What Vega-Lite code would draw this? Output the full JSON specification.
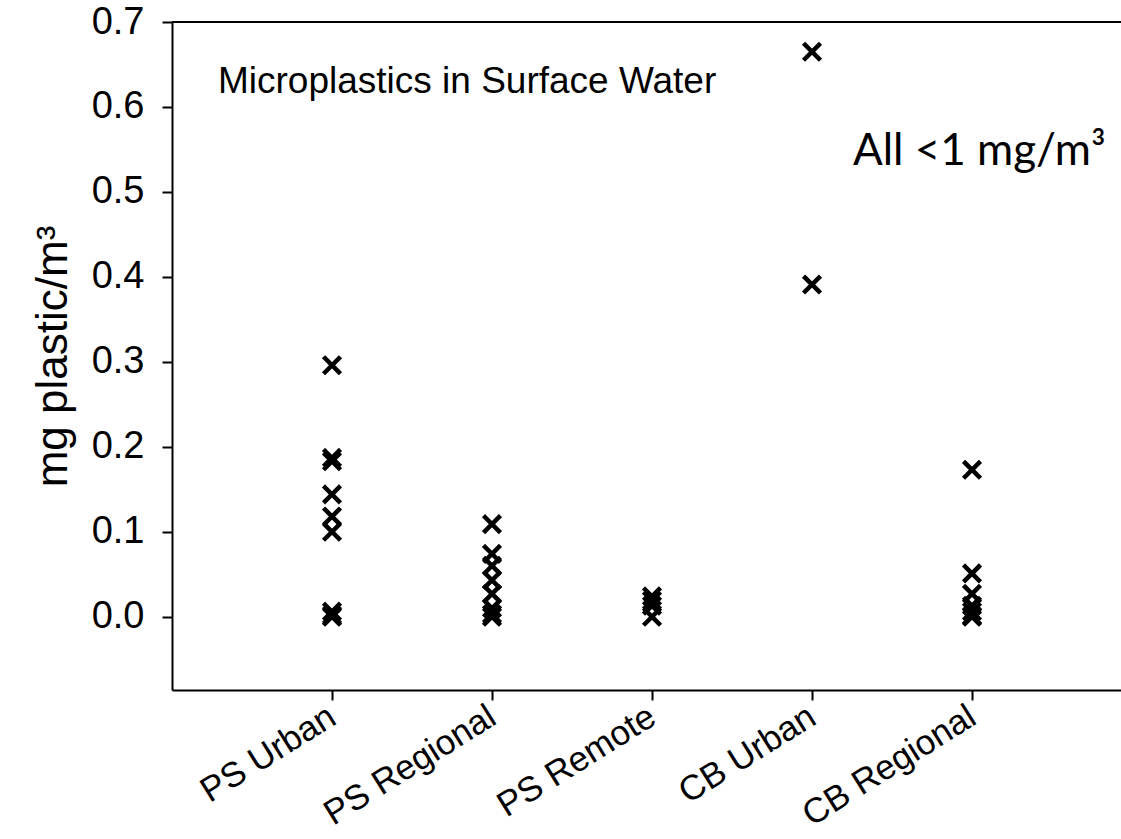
{
  "$schema": "https://vega.github.io/schema/vega-lite/v6.json",
  "width": 949,
  "height": 668,
  "autosize": {"type": "none"},
  "padding": {"left": 172, "top": 22, "right": 0, "bottom": 149},
  "background": "white",
  "config": {
    "view": {"stroke": null},
    "font": "Liberation Sans",
    "axis": {"domainColor": "black", "domainWidth": 2, "tickColor": "black", "tickWidth": 2, "grid": false, "labelColor": "black", "titleColor": "black", "labelFont": "Liberation Sans", "titleFont": "Liberation Sans"}
  },
  "datasets": {
    "pts": [
      {"site": "PS Urban", "value": 0.296},
      {"site": "PS Urban", "value": 0.187},
      {"site": "PS Urban", "value": 0.183},
      {"site": "PS Urban", "value": 0.144},
      {"site": "PS Urban", "value": 0.118},
      {"site": "PS Urban", "value": 0.100},
      {"site": "PS Urban", "value": 0.006},
      {"site": "PS Urban", "value": 0.002},
      {"site": "PS Urban", "value": 0.0},
      {"site": "PS Regional", "value": 0.109},
      {"site": "PS Regional", "value": 0.074},
      {"site": "PS Regional", "value": 0.060},
      {"site": "PS Regional", "value": 0.043},
      {"site": "PS Regional", "value": 0.027},
      {"site": "PS Regional", "value": 0.010},
      {"site": "PS Regional", "value": 0.003},
      {"site": "PS Regional", "value": 0.0},
      {"site": "PS Remote", "value": 0.024},
      {"site": "PS Remote", "value": 0.019},
      {"site": "PS Remote", "value": 0.013},
      {"site": "PS Remote", "value": 0.0},
      {"site": "CB Urban", "value": 0.665},
      {"site": "CB Urban", "value": 0.391},
      {"site": "CB Regional", "value": 0.173},
      {"site": "CB Regional", "value": 0.051},
      {"site": "CB Regional", "value": 0.027},
      {"site": "CB Regional", "value": 0.013},
      {"site": "CB Regional", "value": 0.006},
      {"site": "CB Regional", "value": 0.001},
      {"site": "CB Regional", "value": 0.0}
    ],
    "notes": [
      {"site": "PS Urban", "value": 0.629, "label": "Microplastics in Surface Water", "kind": "a"},
      {"site": "CB Urban", "value": 0.532, "label": "All <1 mg/m³", "kind": "b"}
    ]
  },
  "layer": [
    {
      "data": {"name": "pts"},
      "mark": {"type": "point", "shape": "M-1,-1L1,1M1,-1L-1,1", "filled": false, "stroke": "black", "strokeWidth": 4.5, "size": 190, "opacity": 1, "strokeCap": "square"},
      "encoding": {
        "x": {
          "field": "site", "type": "nominal",
          "sort": ["PS Urban", "PS Regional", "PS Remote", "CB Urban", "CB Regional"],
          "scale": {"type": "point", "padding": 0.9656, "align": 0.5178},
          "axis": {"title": null, "labelAngle": -32, "labelAlign": "right", "labelBaseline": "middle", "labelFontSize": 35, "labelLimit": 0, "tickSize": 10, "labelPadding": 13}
        },
        "y": {
          "field": "value", "type": "quantitative",
          "scale": {"domain": [-0.0862, 0.7], "nice": false, "zero": false},
          "axis": {"title": "mg plastic/m³", "values": [0, 0.1, 0.2, 0.3, 0.4, 0.5, 0.6, 0.7], "format": ".1f", "labelFontSize": 38, "titleFontSize": 44, "titleFontWeight": "normal", "tickSize": 10, "labelPadding": 18, "titlePadding": 16}
        }
      }
    },
    {
      "data": {"values": [{"top": 0.7}]},
      "mark": {"type": "rule", "stroke": "black", "strokeWidth": 2},
      "encoding": {"y": {"field": "top", "type": "quantitative"}}
    },
    {
      "data": {"name": "notes"},
      "transform": [{"filter": "datum.kind == 'a'"}],
      "mark": {"type": "text", "align": "left", "baseline": "middle", "fontSize": 37, "font": "Liberation Sans", "dx": -114, "color": "black"},
      "encoding": {
        "x": {"field": "site", "type": "nominal", "sort": ["PS Urban", "PS Regional", "PS Remote", "CB Urban", "CB Regional"]},
        "y": {"field": "value", "type": "quantitative"},
        "text": {"field": "label"}
      }
    },
    {
      "data": {"name": "notes"},
      "transform": [{"filter": "datum.kind == 'b'"}],
      "mark": {"type": "text", "align": "left", "baseline": "alphabetic", "fontSize": 44, "font": "Lato", "dx": 41, "color": "black"},
      "encoding": {
        "x": {"field": "site", "type": "nominal", "sort": ["PS Urban", "PS Regional", "PS Remote", "CB Urban", "CB Regional"]},
        "y": {"field": "value", "type": "quantitative"},
        "text": {"field": "label"}
      }
    }
  ]
}
